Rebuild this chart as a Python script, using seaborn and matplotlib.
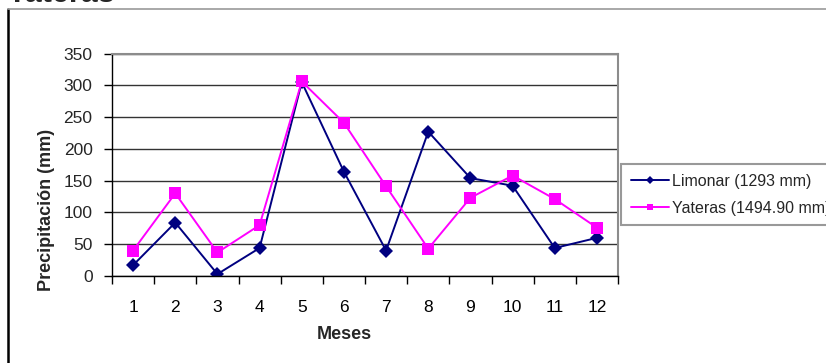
import pandas as pd
import seaborn as sns
import matplotlib.pyplot as plt
from matplotlib.lines import Line2D

months = list(range(1, 13))
limonar = [17, 84, 3, 44, 305, 164, 40, 227, 154, 142, 44, 60]
yateras = [40, 130, 37, 80, 306, 241, 141, 43, 123, 158, 121, 76]
labels = ["Limonar (1293 mm)", "Yateras (1494.90 mm)"]
colors = ["#000080", "#FF00FF"]

df = pd.DataFrame({
    "Meses": months * 2,
    "Precipitación (mm)": limonar + yateras,
    "serie": [labels[0]] * 12 + [labels[1]] * 12,
})

sns.set_style("white")
plt.rcParams["font.family"] = ["Liberation Sans", "DejaVu Sans"]

fig = plt.figure(figsize=(8.26, 3.63), dpi=100)
ax = fig.add_axes([0.1356, 0.2397, 0.6126, 0.6129])

sns.lineplot(data=df, x="Meses", y="Precipitación (mm)", hue="serie", style="serie",
             palette=colors, markers=["D", "s"], dashes=False, linewidth=1.4,
             markeredgewidth=0, ax=ax)
for line, ms in zip(ax.lines, [7, 8.5]):
    line.set_markersize(ms)

ax.set_xlim(0.5, 12.5)
ax.set_ylim(0, 350)
ax.set_yticks(range(0, 351, 50))
ax.set_xticks(months)
ax.set_xticks([m + 0.5 for m in [0] + months], minor=True)
ax.grid(axis="y", color="#333333", linewidth=1)
ax.set_axisbelow(True)
ax.tick_params(axis="x", which="major", length=0, pad=17, labelsize=12.5, colors="black")
ax.tick_params(axis="x", which="minor", length=6, width=1, color="black", direction="out", bottom=True)
ax.tick_params(axis="y", length=6, width=1, pad=8, labelsize=12.5, color="black", direction="out", left=True)

for side in ["left", "bottom"]:
    ax.spines[side].set_color("black")
    ax.spines[side].set_linewidth(1)
for side in ["top", "right"]:
    ax.spines[side].set_color("#8c8c8c")
    ax.spines[side].set_linewidth(1.5)

ax.set_xlabel("Meses", fontsize=13, fontweight="bold")
ax.set_ylabel("Precipitación (mm)", fontsize=13, fontweight="bold")
ax.xaxis.set_label_coords(0.46, -0.225)
ax.yaxis.set_label_coords(-0.113, 0.297)

leg = ax.legend(loc="upper left", bbox_to_anchor=(0.752, 0.548), bbox_transform=fig.transFigure,
                fontsize=11.5, frameon=True, fancybox=False, edgecolor="#808080",
                handlelength=2.4, handletextpad=0.2, borderaxespad=0, borderpad=0.6,
                labelspacing=0.75, markerscale=0.7)
leg.get_frame().set_linewidth(1.5)

# marco del gráfico recortado y título cortado arriba
fig.add_artist(Line2D([0.0097, 0.0097], [0, 0.974], color="black", linewidth=1.8))
fig.add_artist(Line2D([0.0097, 1], [0.974, 0.974], color="#999999", linewidth=1.2))
fig.text(0.008, 1 - 1.5 / 363, "Yateras", fontsize=22, fontweight="bold", va="baseline")

fig.savefig("out.png", dpi=100)
